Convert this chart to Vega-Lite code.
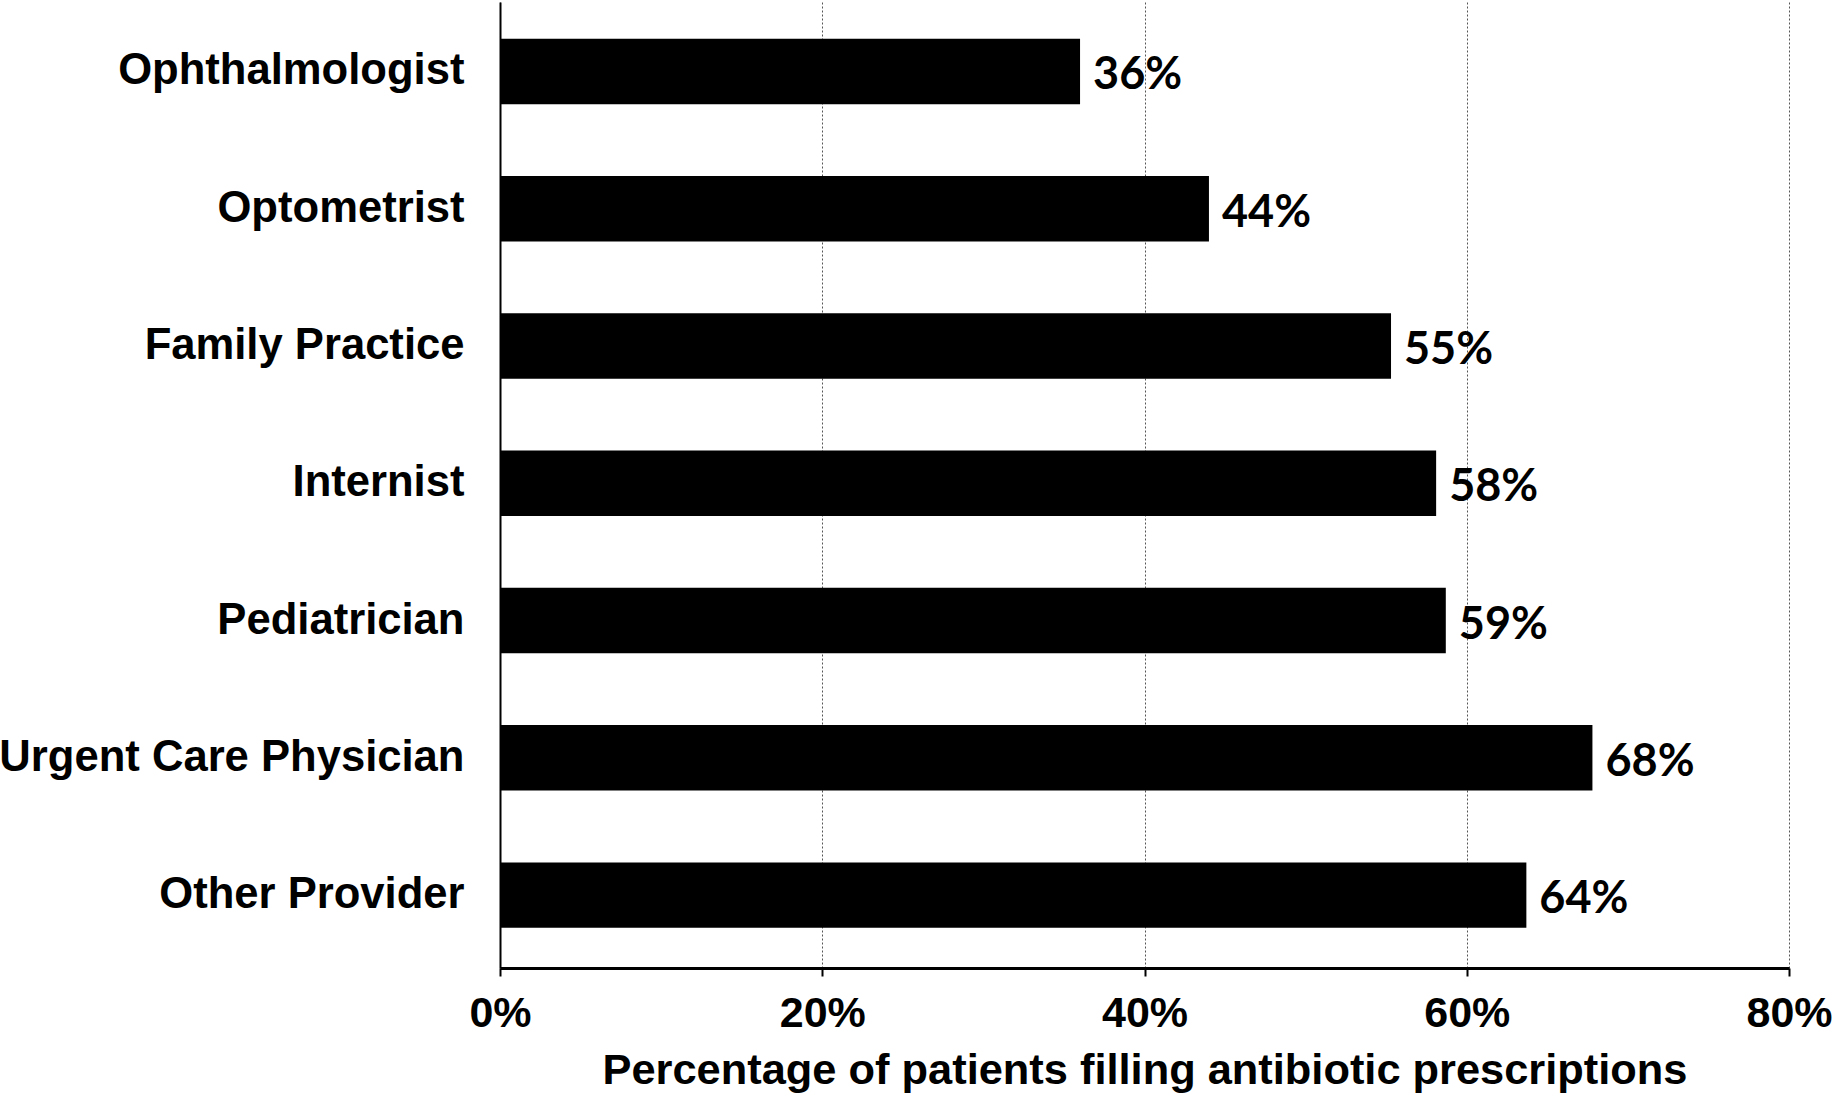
{
  "$schema": "https://vega.github.io/schema/vega-lite/v6.json",
  "autosize": {"type": "none"},
  "width": 1289,
  "height": 966,
  "padding": {"left": 500, "top": 2, "right": 44, "bottom": 134},
  "background": "white",
  "config": {
    "view": {"stroke": null},
    "font": "Liberation Sans"
  },
  "data": {
    "values": [
      {"provider": "Ophthalmologist", "pct": 36.0, "label": "36%"},
      {"provider": "Optometrist", "pct": 44.0, "label": "44%"},
      {"provider": "Family Practice", "pct": 55.3, "label": "55%"},
      {"provider": "Internist", "pct": 58.1, "label": "58%"},
      {"provider": "Pediatrician", "pct": 58.7, "label": "59%"},
      {"provider": "Urgent Care Physician", "pct": 67.8, "label": "68%"},
      {"provider": "Other Provider", "pct": 63.7, "label": "64%"}
    ]
  },
  "encoding": {
    "y": {
      "field": "provider",
      "type": "nominal",
      "sort": null,
      "scale": {"paddingInner": 0.523, "paddingOuter": 0.28, "align": 0.478},
      "axis": {
        "title": null,
        "domainColor": "black",
        "domainWidth": 2,
        "ticks": false,
        "labelFont": "Liberation Sans",
        "labelFontWeight": "bold",
        "labelFontSize": 43.6,
        "labelColor": "black",
        "labelPadding": 36,
        "labelLimit": 600
      }
    },
    "x": {
      "field": "pct",
      "type": "quantitative",
      "scale": {"domain": [0, 80], "nice": false},
      "axis": {
        "values": [0, 20, 40, 60, 80],
        "labelExpr": "datum.value + '%'",
        "title": "Percentage of patients filling antibiotic prescriptions",
        "titleFont": "Liberation Sans",
        "titleFontWeight": "bold",
        "titleFontSize": 43.4,
        "titleColor": "black",
        "titlePadding": 14,
        "domainColor": "black",
        "domainWidth": 3,
        "tickColor": "black",
        "tickWidth": 2,
        "tickSize": 8,
        "labelFont": "Liberation Sans",
        "labelFontWeight": "bold",
        "labelFontSize": 43,
        "labelColor": "black",
        "labelPadding": 16,
        "labelFlush": false,
        "grid": true,
        "gridColor": "#555555",
        "gridWidth": 1,
        "gridDash": [2, 2]
      }
    }
  },
  "layer": [
    {
      "mark": {"type": "bar", "color": "black"}
    },
    {
      "mark": {
        "type": "text",
        "align": "left",
        "baseline": "middle",
        "dx": 13,
        "dy": 4,
        "font": "Lato",
        "fontWeight": "bold",
        "fontSize": 45,
        "color": "black"
      },
      "encoding": {
        "text": {"field": "label"}
      }
    }
  ]
}
